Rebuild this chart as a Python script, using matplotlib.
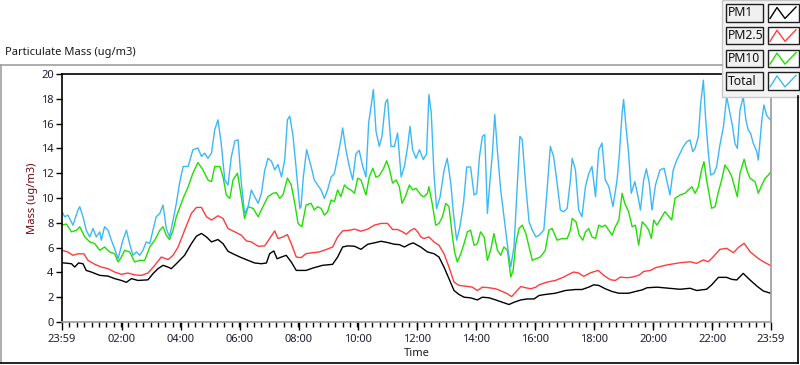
import matplotlib
matplotlib.use("Agg")
import matplotlib.pyplot as plt
from matplotlib.lines import Line2D
from matplotlib.patches import Rectangle

plt.rcParams['font.family'] = ['Noto Sans', 'DejaVu Sans']

# time in hours after 23:59 of the previous day
pm1_t = [0.00, 0.32, 0.43, 0.56, 0.71, 0.82, 0.99, 1.28, 1.56, 1.78, 2.01, 2.18, 2.35, 2.57, 2.91,
         3.08, 3.25, 3.42, 3.59, 3.70, 3.87, 4.15, 4.38, 4.55, 4.72, 4.89, 5.06, 5.28, 5.45, 5.62,
         5.85, 6.07, 6.30, 6.52, 6.75, 6.92, 7.03, 7.17, 7.28, 7.43, 7.59, 7.76, 7.93, 8.26, 8.49,
         8.82, 9.16, 9.33, 9.50, 9.67, 9.90, 10.12, 10.35, 10.57, 10.80, 11.02, 11.25, 11.42, 11.59,
         11.76, 11.89, 12.14, 12.37, 12.59, 12.76, 12.93, 13.10, 13.27, 13.44, 13.61, 13.83, 14.06,
         14.23, 14.46, 14.68, 14.91, 15.13, 15.30, 15.53, 15.75, 15.98, 16.15, 16.36, 16.70, 17.04,
         17.38, 17.60, 17.83, 18.00, 18.17, 18.39, 18.62, 18.85, 19.18, 19.41, 19.64, 19.80, 20.14,
         20.92, 21.26, 21.48, 21.82, 21.99, 22.22, 22.50, 22.67, 22.84, 23.06, 23.29, 23.52, 23.74,
         24.00]
pm1 = [4.78, 4.70, 4.43, 4.76, 4.70, 4.16, 4.03, 3.76, 3.70, 3.50, 3.35, 3.20, 3.50, 3.35, 3.40,
       3.90, 4.30, 4.57, 4.43, 4.30, 4.70, 5.38, 6.32, 6.92, 7.14, 6.86, 6.46, 6.65, 6.32, 5.70,
       5.43, 5.19, 4.97, 4.76, 4.70, 4.76, 5.51, 5.73, 5.10, 5.24, 5.38, 4.84, 4.16, 4.16, 4.35,
       4.57, 4.65, 5.24, 6.05, 6.14, 6.11, 5.86, 6.27, 6.38, 6.51, 6.41, 6.27, 6.24, 6.05,
       6.27, 6.38, 6.05, 5.65, 5.51, 5.24, 4.43, 3.49, 2.54, 2.22, 2.00, 1.95, 1.78,
       2.00, 1.95, 1.78, 1.59, 1.41, 1.59, 1.78, 1.86, 1.86, 2.14, 2.22, 2.32, 2.54,
       2.62, 2.62, 2.81, 3.00, 2.95, 2.68, 2.46, 2.32, 2.32, 2.46, 2.59, 2.76, 2.81,
       2.64, 2.72, 2.54, 2.64, 2.99, 3.60, 3.60, 3.44, 3.39, 3.92, 3.39, 2.90, 2.50,
       2.31]

pm25_t = [0.00, 0.20, 0.37, 0.54, 0.74, 0.88, 1.11, 1.33, 1.56, 1.78, 2.01, 2.23, 2.46, 2.69, 2.91,
          3.14, 3.36, 3.59, 3.76, 3.93, 4.15, 4.38, 4.55, 4.72, 4.89, 5.06, 5.28, 5.45, 5.62, 5.85,
          6.07, 6.24, 6.41, 6.64, 6.86, 7.03, 7.20, 7.31, 7.48, 7.63, 7.76, 7.93, 8.09, 8.26, 8.49,
          8.71, 8.94, 9.16, 9.33, 9.50, 9.73, 9.90, 10.12, 10.35, 10.57, 10.80, 11.02, 11.19, 11.36,
          11.53, 11.65, 11.81, 11.93, 12.04, 12.15, 12.25, 12.42, 12.59, 12.76, 12.93, 13.10, 13.27,
          13.44, 13.66, 13.89, 14.06, 14.23, 14.46, 14.68, 14.91, 15.08, 15.22, 15.36, 15.53, 15.70,
          15.87, 16.04, 16.15, 16.42, 16.70, 16.98, 17.15, 17.32, 17.49, 17.66, 17.89, 18.15, 18.34,
          18.56, 18.73, 18.90, 19.13, 19.30, 19.52, 19.69, 19.92, 20.09, 20.47, 20.92, 21.26, 21.48,
          21.71, 21.88, 22.05, 22.27, 22.50, 22.73, 22.90, 23.09, 23.29, 23.52, 23.74, 24.00]
pm25 = [5.78, 5.65, 5.38, 5.50, 5.50, 4.97, 4.65, 4.43, 4.30, 4.03, 3.84, 3.95, 3.80, 3.76, 3.95,
        4.57, 5.24, 5.03, 5.38, 6.05, 7.40, 8.76, 9.24, 9.24, 8.49, 8.22, 8.57, 8.35, 7.54, 7.27,
        7.00, 6.54, 6.46, 6.11, 6.14, 6.73, 7.35, 6.73, 6.86, 7.05, 6.32, 5.24, 5.19, 5.51, 5.59,
        5.65, 5.84, 6.05, 6.86, 7.35, 7.40, 7.49, 7.32, 7.49, 7.81, 7.95, 7.95, 7.46, 7.46,
        7.27, 7.08, 7.40, 7.54, 7.27, 6.86, 6.73, 6.86, 6.46, 6.19, 5.51, 4.43, 3.22,
        2.95, 2.89, 2.81, 2.54, 2.81, 2.76, 2.68, 2.46, 2.27, 2.05, 2.41, 2.86, 2.76,
        2.68, 2.81, 3.00, 3.22, 3.35, 3.62, 3.84, 4.03, 3.95, 3.68, 3.97, 4.16, 3.76,
        3.41, 3.35, 3.62, 3.57, 3.62, 3.76, 4.08, 4.16, 4.38, 4.60, 4.78, 4.86, 4.73,
        5.00, 4.86, 5.27, 5.86, 5.94, 5.59, 6.02, 6.35, 5.67, 5.21, 4.86, 4.54]

pm10_t = [0.00, 0.15, 0.32, 0.49, 0.60, 0.77, 0.94, 1.11, 1.28, 1.44, 1.61, 1.78, 1.90, 2.01, 2.12,
          2.29, 2.46, 2.63, 2.80, 2.97, 3.14, 3.31, 3.42, 3.53, 3.64, 3.76, 3.87, 4.10, 4.27, 4.43,
          4.60, 4.77, 4.94, 5.06, 5.17, 5.34, 5.45, 5.56, 5.68, 5.79, 5.94, 6.07, 6.18, 6.30, 6.47,
          6.64, 6.80, 6.97, 7.14, 7.26, 7.37, 7.48, 7.63, 7.76, 7.88, 7.99, 8.12, 8.26, 8.43, 8.54,
          8.65, 8.77, 8.88, 8.99, 9.11, 9.22, 9.33, 9.44, 9.56, 9.67, 9.78, 9.90, 10.01, 10.12,
          10.29, 10.40, 10.52, 10.63, 10.74, 10.88, 10.99, 11.08, 11.19, 11.31, 11.42, 11.51, 11.62,
          11.76, 11.87, 11.98, 12.15, 12.25, 12.37, 12.42, 12.54, 12.65, 12.76, 12.88, 12.99, 13.10,
          13.21, 13.29, 13.38, 13.50, 13.61, 13.72, 13.83, 13.95, 14.06, 14.17, 14.29, 14.40, 14.51,
          14.62, 14.74, 14.85, 14.96, 15.08, 15.19, 15.27, 15.36, 15.47, 15.58, 15.70, 15.81, 15.92,
          16.04, 16.19, 16.36, 16.48, 16.59, 16.76, 16.93, 17.10, 17.21, 17.27, 17.40, 17.51, 17.63,
          17.72, 17.83, 17.94, 18.06, 18.17, 18.28, 18.39, 18.51, 18.62, 18.73, 18.85, 18.96, 19.05,
          19.18, 19.30, 19.41, 19.52, 19.64, 19.75, 19.86, 19.95, 20.03, 20.14, 20.41, 20.64, 20.75,
          20.92, 21.09, 21.20, 21.32, 21.43, 21.54, 21.65, 21.73, 21.82, 21.94, 21.99, 22.11, 22.22,
          22.33, 22.44, 22.56, 22.67, 22.78, 22.86, 22.95, 23.09, 23.18, 23.29, 23.46, 23.57, 23.69,
          23.80, 23.91, 24.00]
pm10 = [7.81, 7.90, 7.27, 7.40, 7.68, 6.86, 6.46, 6.32, 5.78, 6.05, 5.65, 5.51, 4.84, 5.24, 5.78,
        5.65, 4.84, 4.97, 4.97, 6.05, 6.60, 7.40, 7.68, 7.00, 6.65, 7.40, 8.49, 9.97, 10.90, 12.00,
        12.86, 12.27, 11.46, 11.32, 12.54, 12.54, 11.73, 10.24, 9.97, 11.46, 12.00, 10.10, 8.35, 9.30, 9.16,
        8.49, 9.30, 10.10, 10.38, 10.43, 9.97, 10.24, 11.60, 11.05, 9.57, 7.95, 7.68, 9.43, 9.57, 9.03,
        9.30, 9.16, 8.62, 8.89, 9.84, 9.70, 10.65, 10.10, 11.05, 10.78, 10.65, 10.38, 11.60, 11.46,
        10.24, 11.68, 12.40, 11.68, 11.80, 12.35, 13.00, 12.35, 11.20, 11.46, 10.90, 9.57, 10.10,
        11.05, 10.65, 10.78, 10.24, 10.10, 10.38, 10.92, 9.43, 7.81, 7.95, 8.49, 9.57, 9.30,
        7.00, 5.65, 4.84, 5.51, 6.32, 7.27, 7.41, 6.19, 6.32, 7.27, 6.86, 4.97, 5.78,
        7.14, 5.78, 5.38, 6.05, 5.78, 3.62, 4.16, 6.32, 7.54, 7.81, 7.14, 6.05, 4.97,
        5.10, 5.24, 5.78, 7.41, 7.54, 6.60, 6.73, 6.73, 7.40, 8.35, 8.08, 7.00, 6.60,
        7.27, 7.54, 6.86, 6.73, 7.81, 7.68, 7.81, 7.40, 7.00, 7.68, 8.22, 10.38, 9.57,
        8.89, 7.68, 7.81, 6.19, 8.08, 7.81, 7.41, 6.73, 8.22, 7.81, 8.90, 8.23, 9.97,
        10.24, 10.38, 10.65, 10.91, 10.38, 10.91, 12.26, 12.93, 11.45, 9.84, 9.17, 9.30, 10.51,
        11.45, 12.66, 12.26, 11.72, 10.78, 10.10, 11.99, 13.12, 12.26, 11.59, 11.32, 10.38, 11.05,
        11.59, 11.85, 12.12]

total_t = [0.00, 0.09, 0.20, 0.37, 0.54, 0.60, 0.71, 0.82, 0.94, 1.05, 1.16, 1.28, 1.33, 1.44, 1.56,
           1.67, 1.78, 1.90, 2.06, 2.18, 2.29, 2.40, 2.52, 2.63, 2.74, 2.85, 2.97, 3.08, 3.19, 3.31,
           3.42, 3.53, 3.64, 3.76, 3.87, 3.98, 4.10, 4.27, 4.43, 4.60, 4.72, 4.83, 4.94, 5.06, 5.17,
           5.28, 5.39, 5.51, 5.62, 5.73, 5.85, 5.96, 6.07, 6.18, 6.30, 6.41, 6.52, 6.64, 6.75, 6.86,
           6.97, 7.09, 7.20, 7.31, 7.43, 7.54, 7.63, 7.71, 7.82, 7.93, 8.05, 8.09, 8.17, 8.28, 8.37,
           8.46, 8.54, 8.65, 8.77, 8.88, 8.99, 9.11, 9.22, 9.33, 9.44, 9.50, 9.61, 9.73, 9.84, 9.95,
           10.06, 10.18, 10.29, 10.38, 10.46, 10.54, 10.63, 10.74, 10.83, 10.95, 11.02, 11.14, 11.25,
           11.36, 11.48, 11.59, 11.70, 11.78, 11.87, 11.98, 12.10, 12.23, 12.34, 12.42, 12.50, 12.59,
           12.68, 12.80, 12.93, 13.04, 13.16, 13.25, 13.36, 13.47, 13.59, 13.70, 13.83, 13.95, 14.04,
           14.13, 14.23, 14.31, 14.40, 14.49, 14.57, 14.65, 14.74, 14.85, 14.96, 15.10, 15.19, 15.30,
           15.41, 15.50, 15.58, 15.70, 15.81, 15.92, 16.04, 16.15, 16.31, 16.42, 16.53, 16.64, 16.76,
           16.87, 16.98, 17.10, 17.21, 17.27, 17.38, 17.49, 17.60, 17.72, 17.83, 17.94, 18.06, 18.17,
           18.28, 18.39, 18.51, 18.65, 18.79, 18.87, 18.96, 19.01, 19.09, 19.18, 19.27, 19.39, 19.50,
           19.58, 19.69, 19.78, 19.88, 19.97, 20.09, 20.24, 20.38, 20.47, 20.58, 20.69, 20.81, 20.92,
           21.03, 21.15, 21.26, 21.35, 21.43, 21.54, 21.62, 21.71, 21.79, 21.88, 21.96, 22.07, 22.16,
           22.27, 22.39, 22.50, 22.59, 22.70, 22.78, 22.86, 22.95, 23.06, 23.15, 23.23, 23.31, 23.40,
           23.52, 23.57, 23.69, 23.76, 23.85, 23.93, 24.00]
total = [8.90, 8.49, 8.62, 7.81, 9.03, 9.30, 8.49, 7.40, 6.86, 7.54, 6.86, 7.27, 6.60, 7.68, 7.40,
         6.60, 5.92, 5.10, 6.60, 7.40, 6.32, 5.38, 5.65, 5.38, 5.78, 6.46, 6.32, 7.40, 8.49, 8.76,
         9.43, 7.54, 6.86, 8.22, 9.57, 11.20, 12.54, 12.54, 13.89, 14.03, 13.35, 13.62, 13.20, 13.62, 15.50,
         16.30, 14.40, 11.46, 11.05, 13.30, 14.60, 14.70, 11.20, 8.76, 9.30, 10.65, 10.10, 9.57, 10.38, 12.20,
         13.20, 12.97, 12.27, 12.70, 11.70, 13.10, 16.30, 16.60, 15.00, 12.27, 9.16, 9.30, 11.70, 13.90, 13.10,
         12.27, 11.46, 11.05, 10.65, 9.97, 10.65, 11.70, 11.97, 13.30, 14.70, 15.65, 13.90, 12.50, 11.46, 13.57,
         13.84, 12.54, 11.70, 16.05, 17.35, 18.75, 15.38, 14.16, 14.97, 17.70, 17.97, 14.16, 14.16,
         15.24, 11.70, 12.54, 14.16, 15.78, 13.89, 13.20, 13.89, 13.10, 13.57, 18.35, 16.86, 12.00,
         9.16, 10.10, 12.20, 13.20, 11.20, 8.76, 6.60, 7.68, 9.57, 12.50, 12.50, 10.24, 10.38,
         13.30, 14.97, 15.11, 8.76, 11.46, 13.62, 16.73, 13.75, 10.65, 8.49, 5.78, 4.43, 6.05,
         10.92, 14.97, 14.70, 10.92, 8.08, 7.41, 6.86, 7.00, 7.41, 10.65, 14.16, 13.35, 11.20,
         9.03, 8.89, 9.16, 11.46, 13.20, 12.27, 9.03, 8.49, 10.92, 11.97, 12.54, 10.10, 13.89,
         14.43, 11.46, 10.92, 9.30, 11.46, 13.62, 16.86, 17.95, 15.78, 13.62, 10.38, 11.32, 10.10,
         9.03, 11.46, 12.35, 11.20, 9.03, 11.05, 12.26, 12.40, 11.45, 10.24, 12.26, 13.06, 13.60,
         14.14, 14.54, 14.68, 13.74, 14.00, 14.95, 17.63, 19.50, 16.29, 13.60, 11.85, 11.99, 12.53,
         14.27, 15.75, 18.17, 17.10, 15.75, 14.40, 14.00, 17.10, 18.17, 16.29, 15.48, 15.21, 14.40,
         13.74, 13.06, 16.29, 17.50, 16.69, 16.42, 16.29]

series_names = ['PM1', 'PM2.5', 'PM10', 'Total']
series_colors = ['#000000', '#ff3c3c', '#1fe000', '#3cb9f5']

x_tick_pos = [0, 2 + 1 / 60, 4 + 1 / 60, 6 + 1 / 60, 8 + 1 / 60, 10 + 1 / 60, 12 + 1 / 60,
              14 + 1 / 60, 16 + 1 / 60, 18 + 1 / 60, 20 + 1 / 60, 22 + 1 / 60, 24]
x_tick_labels = ['23:59', '02:00', '04:00', '06:00', '08:00', '10:00', '12:00',
                 '14:00', '16:00', '18:00', '20:00', '22:00', '23:59']
y_ticks = [0, 2, 4, 6, 8, 10, 12, 14, 16, 18, 20]

W, H = 800, 365
fig = plt.figure(figsize=(8, 3.65), dpi=100)
fig.patch.set_facecolor('white')


def fx(px):
    return px / W


def fy(py):
    return 1 - py / H


ax = fig.add_axes([fx(62), fy(322), fx(771) - fx(62), fy(74) - fy(322)])
for t, v, c in zip([pm1_t, pm25_t, pm10_t, total_t], [pm1, pm25, pm10, total], series_colors):
    ax.plot(t, v, color=c, lw=1.0)

ax.set_xlim(0, 24)
ax.set_ylim(0, 20)
ax.set_xticks(x_tick_pos)
ax.set_xticklabels(x_tick_labels)
ax.set_xticks([i * 0.25 for i in range(97)], minor=True)
ax.set_yticks(y_ticks)
ax.tick_params(axis='both', which='major', labelsize=8, color='black', labelcolor='#1c1c30')
ax.tick_params(axis='x', which='major', length=6, width=1, pad=3)
ax.tick_params(axis='x', which='minor', length=3.5, width=1)
ax.tick_params(axis='y', which='major', length=4, width=1, pad=2)
for side in ['top', 'left']:
    ax.spines[side].set_color('black')
    ax.spines[side].set_linewidth(1.2)
for side in ['bottom', 'right']:
    ax.spines[side].set_color('#9a9a9a')
    ax.spines[side].set_linewidth(1.2)
ax.set_xlabel('Time', fontsize=8, color='#1c1c1c', labelpad=2)
ax.set_ylabel('Mass (ug/m3)', fontsize=8, color='#6a0a14', labelpad=2)

# outer panel frame and title
fig.add_artist(Line2D([fx(0), fx(722)], [fy(65), fy(65)], color='#a0a0a0', lw=1.2))
fig.add_artist(Line2D([fx(1), fx(1)], [fy(65), fy(363)], color='#a0a0a0', lw=1.2))
fig.add_artist(Line2D([fx(0), fx(798)], [fy(363), fy(363)], color='black', lw=1.2))
fig.add_artist(Line2D([fx(797.5), fx(797.5)], [fy(96), fy(363)], color='black', lw=1.2))
fig.text(fx(5), fy(53), 'Particulate Mass (ug/m3)', fontsize=8, color='#1a1a1a',
         ha='left', va='center')

# legend panel
fig.add_artist(Rectangle((fx(722), fy(97)), fx(78), fy(0) - fy(97), facecolor='#f3f3f3',
                         edgecolor='#c8c8c8', lw=1, transform=fig.transFigure))
for i, (name, col) in enumerate(zip(series_names, series_colors)):
    top = 4 + i * 22.8
    bot = top + 17.5
    fig.add_artist(Rectangle((fx(725.5), fy(bot)), fx(37), fy(top) - fy(bot), facecolor='#f0f0f0',
                             edgecolor='#202020', lw=1, transform=fig.transFigure))
    fig.text(fx(727.5), fy((top + bot) / 2), name, fontsize=8.8, color='#101010', ha='left', va='center')
    fig.add_artist(Rectangle((fx(767.5), fy(bot)), fx(31), fy(top) - fy(bot), facecolor='white',
                             edgecolor='#202020', lw=1, transform=fig.transFigure))
    zx = [fx(770), fx(777), fx(785), fx(796)]
    zy = [fy(bot - 3), fy(top + 3.5), fy(bot - 3), fy(top + 3)]
    fig.add_artist(Line2D(zx, zy, color=col, lw=1))

fig.savefig('out.png', dpi=100)
